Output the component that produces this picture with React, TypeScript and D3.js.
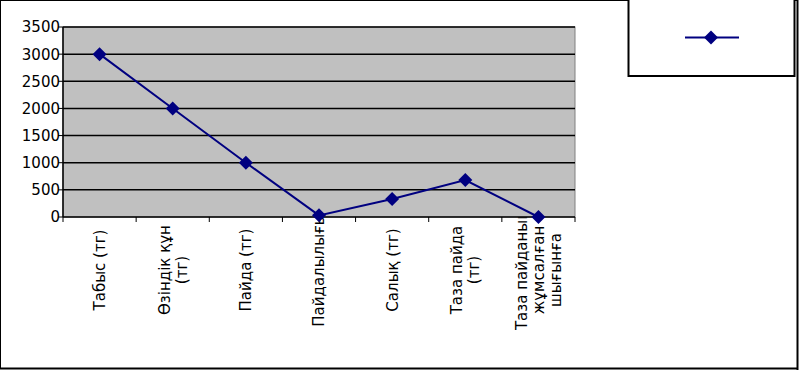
import * as React from "react";
import * as d3 from "d3";

const categories: string[][] = [
  ["Табыс (тг)"],
  ["Өзіндік құн", "(тг)"],
  ["Пайда (тг)"],
  ["Пайдалылығы"],
  ["Салық (тг)"],
  ["Таза пайда", "(тг)"],
  ["Таза пайданың", "жұмсалған", "шығынға"],
];
const values = [3000, 2000, 1000, 30, 330, 680, 0];
const yTicks = [0, 500, 1000, 1500, 2000, 2500, 3000, 3500];

const W = 800;
const H = 371;
const plot = { left: 63, right: 575, top: 27, bottom: 217 };
const navy = "#000080";
const font = "DejaVu Sans, sans-serif";

const diamond = (cx: number, cy: number, r: number) =>
  `M${cx},${cy - r}L${cx + r},${cy}L${cx},${cy + r}L${cx - r},${cy}Z`;

export default function App() {
  const x = d3
    .scaleBand<number>()
    .domain(values.map((_, i) => i))
    .range([plot.left, plot.right]);
  const y = d3.scaleLinear().domain([0, 3500]).range([plot.bottom, plot.top]);
  const cx = (i: number) => (x(i) as number) + x.bandwidth() / 2;

  const line = d3
    .line<number>()
    .x((_, i) => cx(i))
    .y((d) => y(d));

  const bounds = values.map((_, i) => x(i) as number).concat([plot.right]);
  const labelCenterY = 270;
  const lineH = 17;

  return (
    <svg
      width={W}
      height={H}
      style={{ position: "absolute", left: 0, top: 0, background: "#fff" }}
      fontFamily={font}
    >
      <rect x={0.5} y={0.5} width={797} height={368} fill="#fff" stroke="#000" strokeWidth={1} />
      <line x1={797.5} y1={0} x2={797.5} y2={370} stroke="#000" strokeWidth={2} />
      <line x1={0} y1={368.5} x2={798} y2={368.5} stroke="#000" strokeWidth={2} />

      {/* category labels sit under the plot, which hides whatever pokes above the axis */}
      {categories.map((lines, i) => {
        const n = lines.length;
        return (
          <text
            key={i}
            transform={`translate(${cx(i)},${labelCenterY}) rotate(-90)`}
            textAnchor="middle"
            fontSize={15}
            fill="#000"
          >
            {lines.map((l, j) => (
              <tspan key={j} x={0} y={(j - (n - 1) / 2) * lineH} dy="0.36em">
                {l}
              </tspan>
            ))}
          </text>
        );
      })}

      <rect
        x={plot.left}
        y={plot.top}
        width={plot.right - plot.left}
        height={plot.bottom - plot.top}
        fill="#c0c0c0"
        stroke="#808080"
        strokeWidth={1}
      />
      {yTicks.map((t) => (
        <g key={t}>
          {t > 0 && (
            <line x1={plot.left} x2={plot.right} y1={y(t)} y2={y(t)} stroke="#000" strokeWidth={1.5} />
          )}
          <line x1={plot.left - 5} x2={plot.left} y1={y(t)} y2={y(t)} stroke="#000" strokeWidth={1} />
          <text x={plot.left - 3} y={y(t)} dy="0.36em" textAnchor="end" fontSize={15} fill="#000">
            {t}
          </text>
        </g>
      ))}
      <line x1={plot.left} x2={plot.left} y1={plot.top} y2={plot.bottom} stroke="#000" strokeWidth={1.5} />
      <line x1={plot.left} x2={plot.right} y1={plot.bottom} y2={plot.bottom} stroke="#000" strokeWidth={1.5} />
      {bounds.map((b, i) => (
        <line key={i} x1={b} x2={b} y1={plot.bottom} y2={plot.bottom + 5} stroke="#000" strokeWidth={1} />
      ))}

      <path d={line(values) ?? ""} fill="none" stroke={navy} strokeWidth={2} />
      {values.map((v, i) => (
        <path key={i} d={diamond(cx(i), y(v), 7)} fill={navy} />
      ))}

      <rect x={628.5} y={-1} width={166} height={77} fill="#fff" stroke="#000" strokeWidth={2} />
      <line x1={685} x2={739} y1={37.5} y2={37.5} stroke={navy} strokeWidth={2} />
      <path d={diamond(711, 37.5, 7)} fill={navy} />
    </svg>
  );
}
